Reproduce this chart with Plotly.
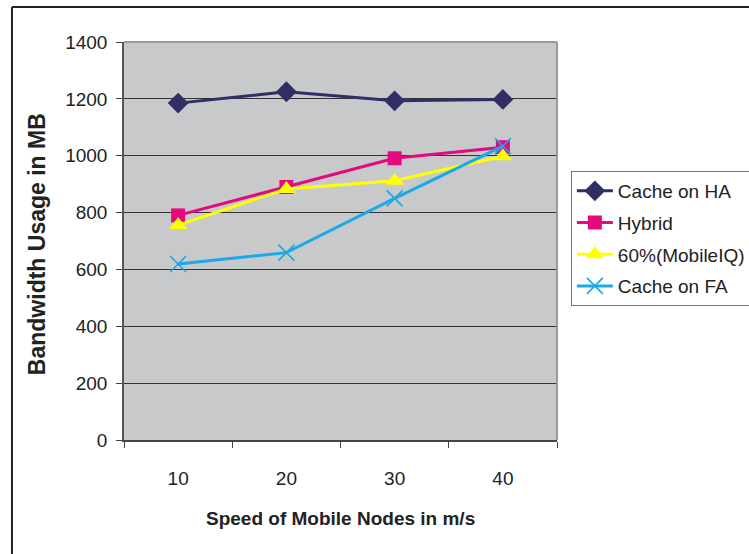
import plotly.graph_objects as go

# Mobile node speed (m/s) and bandwidth usage (MB) for each caching scheme
speeds = ["10", "20", "30", "40"]
cache_on_ha = [1185, 1225, 1193, 1198]
hybrid = [790, 890, 991, 1030]
mobileiq_60 = [756, 883, 912, 998]
cache_on_fa = [619, 659, 850, 1034]

y_ticks = [0, 200, 400, 600, 800, 1000, 1200, 1400]

FONT = "Liberation Sans, Arial, sans-serif"
TEXT = "#222222"

series = [
    ("Cache on HA", cache_on_ha, "#2f2f66", dict(symbol="diamond", size=16)),
    ("Hybrid", hybrid, "#e5097f", dict(symbol="square", size=14)),
    ("60%(MobileIQ)", mobileiq_60, "#ffff00", dict(symbol="triangle-up", size=16)),
    ("Cache on FA", cache_on_fa, "#1aa9e6",
     dict(symbol="x-thin", size=16, line=dict(width=1.6, color="#1aa9e6"))),
]

fig = go.Figure()
for i, (name, vals, color, mk) in enumerate(series):
    fig.add_trace(go.Scatter(
        x=speeds, y=vals, name=name, mode="lines+markers",
        line=dict(color=color, width=3),
        marker=dict(color=color, **mk),
        legendgroup=f"g{i}",
    ))

fig.update_layout(
    width=749, height=554,
    margin=dict(l=124, r=192, t=42, b=114, autoexpand=False),
    paper_bgcolor="white",
    plot_bgcolor="#c8c9cb",
    font=dict(family=FONT, size=19, color=TEXT),
    showlegend=True,
    legend=dict(
        x=1.032, y=0.676, xanchor="left", yanchor="top",
        bgcolor="white", bordercolor="#777777", borderwidth=1,
        font=dict(family=FONT, size=19, color=TEXT),
        tracegroupgap=4, traceorder="grouped",
        itemwidth=36,
    ),
    xaxis=dict(
        type="category", range=[-0.5, 3.5],
        tickson="boundaries", ticks="outside", ticklen=6, tickcolor="#444444",
        showline=True, linecolor="#444444", linewidth=1.5,
        showgrid=False, zeroline=False,
        ticklabelstandoff=20,
        tickfont=dict(family=FONT, size=19, color=TEXT),
    ),
    yaxis=dict(
        range=[0, 1400], tickvals=y_ticks,
        ticks="outside", ticklen=6, tickcolor="#444444",
        showline=True, linecolor="#555555", linewidth=1.5,
        showgrid=True, gridcolor="#333333", gridwidth=1,
        zeroline=False,
        ticklabelstandoff=5,
        tickfont=dict(family=FONT, size=19, color=TEXT),
    ),
    annotations=[
        dict(text="<b>Speed of Mobile Nodes in m/s</b>", xref="paper", yref="paper",
             x=0.5, y=-0.198, xanchor="center", yanchor="middle", showarrow=False,
             font=dict(family=FONT, size=19, color=TEXT)),
        dict(text="<b>Bandwidth Usage in MB</b>", xref="paper", yref="paper",
             x=-0.201, y=0.492, xanchor="center", yanchor="middle", showarrow=False,
             textangle=-90, font=dict(family=FONT, size=23, color=TEXT)),
    ],
    shapes=[
        # gray top and right edges of the plotting area
        dict(type="line", xref="paper", yref="paper", x0=0, x1=1, y0=1, y1=1,
             line=dict(color="#9a9a9a", width=2)),
        dict(type="line", xref="paper", yref="paper", x0=1, x1=1, y0=0, y1=1,
             line=dict(color="#9a9a9a", width=2)),
        # outer chart frame
        dict(type="line", xref="paper", yref="paper", x0=-0.2587, x1=1.6,
             y0=1.088, y1=1.088, line=dict(color="#222222", width=2)),
        dict(type="line", xref="paper", yref="paper", x0=-0.2587, x1=-0.2587,
             y0=-0.4, y1=1.088, line=dict(color="#222222", width=2)),
    ],
)

fig.write_html("out.html")
